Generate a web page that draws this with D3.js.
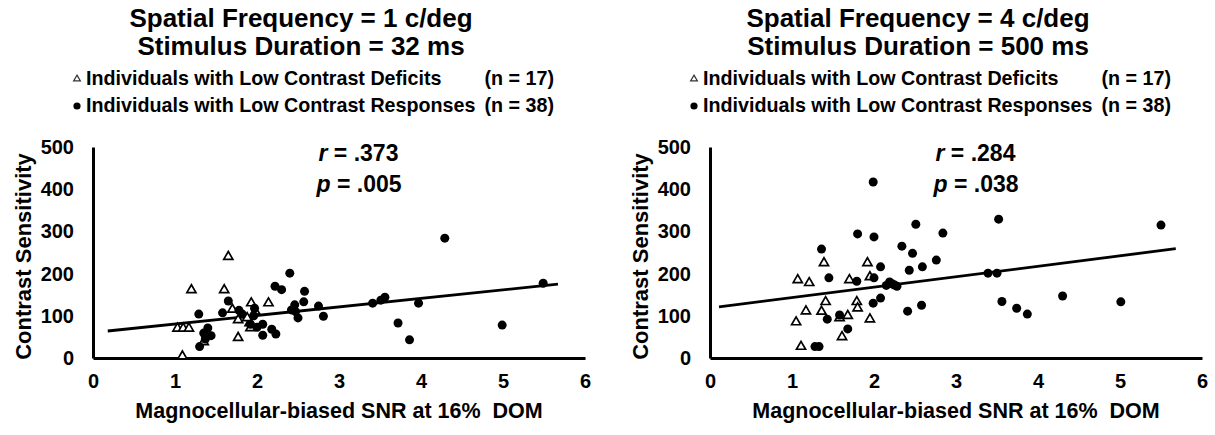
<!DOCTYPE html>
<html><head><meta charset="utf-8">
<script src="https://cdn.jsdelivr.net/npm/d3@7"></script>
<style>
body{margin:0;background:#fff}
svg{display:block}
text{font-family:"Liberation Sans",Arial,sans-serif;font-weight:bold;fill:#000}
</style>
</head><body>
<svg id="c" width="1215" height="435"></svg>
<script>
const xTicks = [0,1,2,3,4,5,6];
const yTicks = [0,100,200,300,400,500];
const xLabel = "Magnocellular-biased SNR at 16%\u00a0 DOM";
const yLabel = "Contrast Sensitivity";
const legendLabels = ["Individuals with Low Contrast Deficits","Individuals with Low Contrast Responses"];
const legendCounts = ["(n = 17)","(n = 38)"];

const titlesA = ["Spatial Frequency = 1 c/deg","Stimulus Duration = 32 ms"];
const statsA = [".373",".005"];
const deficitsA = [[1.09,4],[1.03,70],[1.10,70],[1.17,70],[1.20,161],[1.65,240],[1.60,161],[1.70,115],[1.77,90],[1.77,48],[1.93,130],[1.91,83],[1.92,71],[2.14,130],[1.35,38],[1.88,95],[1.98,110]];
const responsesA = [[1.29,104],[1.30,27],[1.35,59],[1.40,71],[1.44,53],[1.37,45],[1.58,107],[1.65,135],[1.78,113],[1.82,104],[1.97,118],[1.96,100],[2.00,73],[2.07,80],[2.07,54],[2.18,68],[2.23,57],[2.40,201],[2.22,170],[2.30,162],[2.58,158],[2.57,133],[2.46,126],[2.42,114],[2.50,95],[2.75,123],[2.81,99],[3.41,130],[3.51,137],[3.56,144],[3.97,130],[3.72,83],[3.86,43],[4.29,284],[4.99,78],[5.49,177],[2.47,110],[1.92,80]];
const fitA = [[0.18,64],[5.67,175]];

const titlesB = ["Spatial Frequency = 4 c/deg","Stimulus Duration = 500 ms"];
const statsB = [".284",".038"];
const deficitsB = [[1.07,185],[1.21,178],[1.05,85],[1.17,111],[1.11,27],[1.39,225],[1.41,133],[1.36,110],[1.70,185],[1.68,100],[1.61,50],[1.79,133],[1.80,118],[1.92,225],[1.95,192],[1.95,92],[1.58,95]];
const responsesB = [[1.99,417],[1.80,294],[2.00,287],[1.36,258],[1.45,190],[1.79,182],[2.00,190],[2.08,216],[1.43,92],[1.58,102],[1.68,69],[1.99,130],[2.08,142],[1.28,27],[1.33,27],[2.19,180],[2.25,173],[2.34,265],[2.47,248],[2.51,317],[2.43,208],[2.41,111],[2.58,125],[2.84,296],[2.76,232],[2.59,216],[3.39,201],[3.50,201],[3.52,329],[3.56,134],[3.74,118],[3.87,104],[4.30,147],[5.01,133],[5.50,315],[2.22,176],[2.15,172],[2.28,170]];
const fitB = [[0.11,121],[5.68,259]];

const svg = d3.select("#c");
const tri = d3.symbol().type(d3.symbolTriangle);

function panel(ox, titles, stats, deficits, responses, fit){
  const x = d3.scaleLinear().domain([0,6]).range([ox, ox+492]);
  const y = d3.scaleLinear().domain([0,500]).range([358,147]);
  const g = svg.append("g");

  // titles
  g.selectAll("text.title").data(titles).join("text")
    .attr("x", ox+208).attr("y",(d,i)=>27+i*28)
    .attr("text-anchor","middle").style("font-size","26px").text(d=>d);

  // legend
  const ly = [85,112];
  g.append("path").attr("d", tri.size(20)())
    .attr("transform",`translate(${ox-16},${ly[0]-6})`)
    .attr("fill","#fff").attr("stroke","#333").attr("stroke-width",1.2);
  g.append("circle").attr("cx",ox-16).attr("cy",ly[1]-6).attr("r",3.6).attr("fill","#000");
  legendLabels.forEach((t,i)=>{
    g.append("text").attr("x",ox-7).attr("y",ly[i]).style("font-size","19.7px").text(t);
    g.append("text").attr("x",ox+461).attr("y",ly[i]).attr("text-anchor","end").style("font-size","19.7px").text(legendCounts[i]);
  });

  // axes
  const ya = g.append("g").attr("transform",`translate(${ox},0)`)
    .call(d3.axisLeft(y).tickValues(yTicks).tickSize(0).tickPadding(19).tickFormat(d3.format("d")));
  ya.selectAll("text").style("font-size","20px");
  ya.select(".domain").attr("stroke","#000").attr("stroke-width",3);
  const xa = g.append("g").attr("transform",`translate(0,358)`)
    .call(d3.axisBottom(x).tickValues(xTicks).tickSize(0).tickPadding(16).tickFormat(d3.format("d")));
  xa.selectAll("text").style("font-size","20px");
  xa.select(".domain").attr("stroke","#000").attr("stroke-width",3);

  // axis titles
  g.append("text").attr("transform",`translate(${ox-70},${(y(0)+y(500))/2+4}) rotate(-90)`)
    .attr("text-anchor","middle").attr("dy","0.36em").style("font-size","22px").text(yLabel);
  g.append("text").attr("x",(x(0)+x(6))/2).attr("y",418)
    .attr("text-anchor","middle").style("font-size","21.5px").text(xLabel);

  // fit line
  g.append("line").attr("x1",x(fit[0][0])).attr("y1",y(fit[0][1]))
    .attr("x2",x(fit[1][0])).attr("y2",y(fit[1][1]))
    .attr("stroke","#000").attr("stroke-width",2.8);

  // deficits
  g.selectAll("path.def").data(deficits).join("path").attr("class","def")
    .attr("d", tri.size(36)())
    .attr("transform",d=>`translate(${x(d[0])},${y(d[1])})`)
    .attr("fill","#fff").attr("stroke","#000").attr("stroke-width",1.7);
  // responses
  g.selectAll("circle.resp").data(responses).join("circle").attr("class","resp")
    .attr("cx",d=>x(d[0])).attr("cy",d=>y(d[1])).attr("r",4.5).attr("fill","#000");

  // stats
  const st = [["r",stats[0]],["p",stats[1]]];
  st.forEach((s,i)=>{
    const t = g.append("text").attr("x", x(2.75)-(i?2:0)).attr("y", 161+i*31).style("font-size","23px");
    t.append("tspan").style("font-style","italic").text(s[0]);
    t.append("tspan").text(" = "+s[1]);
  });
}

panel(93, titlesA, statsA, deficitsA, responsesA, fitA);
panel(710, titlesB, statsB, deficitsB, responsesB, fitB);
</script>
</body></html>
